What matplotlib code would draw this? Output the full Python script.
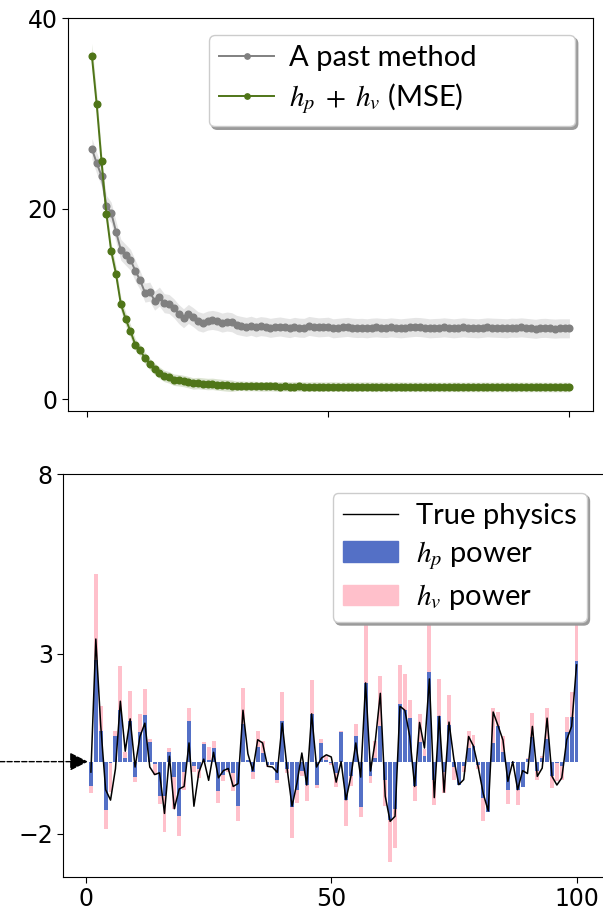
import numpy as np
import matplotlib
matplotlib.use("Agg")
import matplotlib.pyplot as plt
from matplotlib.lines import Line2D
from matplotlib.patches import Patch

plt.rcParams['mathtext.fontset'] = 'stix'

# ---------------- top panel data ----------------
epochs = list(range(1, 101))
past_method = [26.3, 24.8, 23.45, 20.3, 19.6, 17.6, 15.7, 15.17, 14.64, 13.5,
               12.5, 11.2, 11.3, 10.35, 10.78, 10.09, 10.0, 9.56, 8.95, 8.51,
               8.96, 8.62, 8.2, 8.05, 8.26, 8.33, 8.23, 8.05, 8.16, 8.09,
               7.81, 7.7, 7.6, 7.72, 7.55, 7.68, 7.62, 7.5, 7.58, 7.64,
               7.55, 7.47, 7.6, 7.52, 7.5, 7.7, 7.62, 7.55, 7.58, 7.62,
               7.45, 7.5, 7.55, 7.6, 7.52, 7.48, 7.5, 7.45, 7.52, 7.55,
               7.5, 7.48, 7.55, 7.5, 7.45, 7.5, 7.55, 7.6, 7.58, 7.52,
               7.45, 7.48, 7.5, 7.55, 7.5, 7.45, 7.5, 7.55, 7.5, 7.48,
               7.45, 7.5, 7.55, 7.52, 7.5, 7.48, 7.45, 7.52, 7.5, 7.55,
               7.5, 7.45, 7.4, 7.48, 7.5, 7.45, 7.42, 7.45, 7.45, 7.45]
past_err = [1.1] * 10 + [1.0] * 20 + [1.0] * 70
ours_mse = [36.05, 30.97, 24.99, 19.5, 15.57, 13.16, 10.01, 8.43, 7.14, 5.74,
            5.14, 4.34, 3.7, 3.2, 2.8, 2.45, 2.3, 2.05, 2.0, 1.92,
            1.8, 1.66, 1.7, 1.65, 1.6, 1.62, 1.55, 1.5, 1.45, 1.42,
            1.4, 1.42, 1.38, 1.4, 1.38, 1.36, 1.35, 1.38, 1.35, 1.34,
            1.36, 1.33, 1.34, 1.35, 1.33, 1.32, 1.34, 1.33, 1.32, 1.33,
            1.34, 1.32, 1.31, 1.33, 1.32, 1.31, 1.32, 1.33, 1.31, 1.3,
            1.32, 1.31, 1.3, 1.31, 1.32, 1.3, 1.31, 1.3, 1.31, 1.3,
            1.3, 1.31, 1.3, 1.29, 1.3, 1.31, 1.3, 1.29, 1.3, 1.3,
            1.29, 1.3, 1.3, 1.29, 1.3, 1.29, 1.3, 1.29, 1.29, 1.3,
            1.29, 1.29, 1.3, 1.29, 1.29, 1.29, 1.28, 1.29, 1.29, 1.29]
ours_err = [1.3, 1.1, 1.0, 0.9, 0.8, 0.8, 0.7, 0.7, 0.7, 0.6] + [0.6] * 20 + [0.5] * 70

# ---------------- bottom panel data ----------------
idx = list(range(1, 101))
hp = [-0.69, 2.83, 0.86, -1.35, -0.04, 0.72, 1.44, 0.11, 1.12, -0.44,
      0.83, 1.29, 0.54, -0.07, -0.96, -0.95, 0.28, -0.44, -1.52, -0.30,
      1.14, -0.11, -0.20, 0.50, 0.05, 0.39, -0.82, -0.36, -0.22, -0.31,
      -1.22, 1.06, 0.05, -0.29, 0.40, 0.23, -0.09, -0.10, -0.50, 1.12,
      -0.20, -1.26, -0.80, -0.25, -0.65, 1.33, -0.64, 0.51, 0.05, -0.05,
      -0.31, 0.83, -1.06, -0.41, 0.70, -1.26, 2.19, -0.41, 0.11, 1.00,
      -0.50, -1.61, -1.33, 1.61, 1.44, 1.22, -0.69, 0.56, 0.17, 2.50,
      -0.52, 1.26, -0.30, 1.02, -0.15, -0.64, -0.13, 0.37, 0.44, -0.08,
      -1.02, -1.40, 0.53, 0.98, 0.26, -0.80, -0.05, -0.80, -0.70, 0.07,
      0.68, -0.25, 0.09, 0.64, -0.41, -0.05, -0.13, 0.83, 1.25, 2.81]
hv = [-0.18, 2.39, 0.68, -0.52, -0.81, 0.14, 1.21, 0.15, 0.85, -0.13,
      0.50, 0.74, 0.10, -0.29, -0.23, -1.01, 0.11, -0.89, -0.55, -0.50,
      0.36, -0.19, -0.25, 0.05, 0.35, 0.19, -0.34, -0.19, -0.08, -0.51,
      -0.44, 1.00, 0.00, -0.18, 0.44, 0.35, -0.06, 0.00, -0.09, 0.81,
      -0.11, -0.87, -0.36, -0.16, -0.45, 0.95, -0.10, 0.13, 0.10, -0.05,
      -0.40, 0.03, -0.74, -0.28, 0.36, -0.29, 1.81, -0.18, 0.47, 1.37,
      -0.72, -1.19, -1.07, 1.08, 1.00, 0.50, -0.41, 0.77, 0.18, 1.50,
      -0.69, 1.05, -0.57, 0.84, -0.35, 0.00, -0.17, 0.49, 0.29, -0.12,
      -0.64, 0.00, 0.97, 0.41, 0.44, -0.39, 0.00, -0.41, 0.00, 0.03,
      0.67, -0.25, 0.06, 0.86, -0.33, -0.50, -0.37, 0.41, 0.69, 1.49]
true_physics = [-0.29, 3.41, 1.00, -0.78, -1.07, -0.20, 1.68, 0.29, 1.19, -0.15,
                0.70, 1.07, -0.15, -0.36, -0.31, -1.44, 0.15, -1.31, -0.76, -0.69,
                0.52, -1.24, -0.30, 0.07, -0.52, 0.26, -0.45, -0.25, -0.19, -0.69,
                -0.61, 1.43, 0.22, -0.25, 0.61, 0.52, -0.13, -0.15, -0.30, 1.07,
                -0.20, -1.24, -0.60, 0.24, -0.65, 1.33, -0.15, 0.10, 0.19, 0.13,
                -0.57, 0.00, -1.06, -0.41, 0.52, -0.43, 2.19, -0.26, 0.60, 1.90,
                -0.96, -1.66, -1.52, 1.54, 1.43, 0.70, -0.69, 1.09, 0.38, 2.30,
                -1.00, 1.26, -0.85, 1.10, 0.06, -0.64, -0.50, 0.70, 0.43, -0.18,
                -0.90, -1.37, 1.38, 1.00, 0.60, -0.55, 0.00, -0.78, -0.25, -0.33,
                0.98, -0.41, -0.18, 1.21, -0.41, -0.65, -0.45, 0.61, 0.98, 2.69]

top_yticks = [0, 20, 40]
bot_yticks = [-2, 3, 8]
xticks = [0, 50, 100]

GRAY = '#808080'
GREEN = '#4f7518'
BLUE = '#5470c6'
PINK = '#ffc0cb'
LEG_FONT = {'family': 'Lato', 'size': 21}
SHADOW = {'color': '#9a9a9a', 'alpha': 1.0}

fig = plt.figure(figsize=(6.03, 9.11), dpi=100)

# ---------------- top panel ----------------
ax1 = fig.add_axes([68 / 603, 1 - 410.7 / 911, 525.3 / 603, 392.4 / 911])
pm = np.array(past_method); pe = np.array(past_err)
om = np.array(ours_mse); oe = np.array(ours_err)
ax1.fill_between(epochs, pm - pe, pm + pe, color=GRAY, alpha=0.2, lw=0)
ax1.fill_between(epochs, om - oe, om + oe, color=GREEN, alpha=0.2, lw=0)
ax1.plot(epochs, past_method, '-o', color=GRAY, ms=4.8, lw=1.4, label='A past method')
ax1.plot(epochs, ours_mse, '-o', color=GREEN, ms=4.8, lw=1.4,
         label=r'$h_p\;+\;h_v$ (MSE)')
ax1.set_xlim(-3.95, 104.95)
ax1.set_ylim(-1.2, 40)
ax1.set_yticks(top_yticks)
ax1.set_xticks(xticks)
ax1.set_xticklabels([])
ax1.tick_params(labelsize=17, length=4)
ax1.legend(loc='upper left', bbox_to_anchor=(0.268, 0.0, 0.697, 0.957),
           mode='expand', borderaxespad=0, prop=LEG_FONT, markerscale=0.8,
           shadow=SHADOW, fancybox=True, framealpha=1, handlelength=1.9,
           handletextpad=0.5, labelspacing=0.35, borderpad=0.35)

# ---------------- bottom panel ----------------
ax2 = fig.add_axes([63.3 / 603, 1 - 876.7 / 911, 540.7 / 603, 402.7 / 911])
ax2.bar(idx, hp, width=0.8, color=BLUE)
ax2.bar(idx, hv, width=0.8, bottom=hp, color=PINK)
ax2.plot(idx, true_physics, color='black', lw=1.1)
ax2.set_xlim(-4.63, 105.6)
ax2.set_ylim(-3.2, 8)
ax2.set_yticks(bot_yticks)
ax2.set_xticks(xticks)
ax2.tick_params(labelsize=17, length=4)
handles = [Line2D([0], [0], color='black', lw=1),
           Patch(color=BLUE), Patch(color=PINK)]
labels = ['True physics', r'$h_p$ power', r'$h_v$ power']
ax2.legend(handles, labels, loc='upper right', bbox_to_anchor=(0.968, 0.9536),
           borderaxespad=0, prop=LEG_FONT,
           shadow=SHADOW, fancybox=True, framealpha=1, handlelength=1.9,
           handletextpad=0.6, labelspacing=0.35, borderpad=0.35)

ax2.annotate('', xy=(0.4, 0), xytext=(-17.6, 0), xycoords='data', textcoords='data',
             annotation_clip=False,
             arrowprops=dict(arrowstyle='-|>', linestyle='--', lw=1, color='black',
                             mutation_scale=28, shrinkA=0, shrinkB=0))

fig.savefig('out.png', dpi=100)
